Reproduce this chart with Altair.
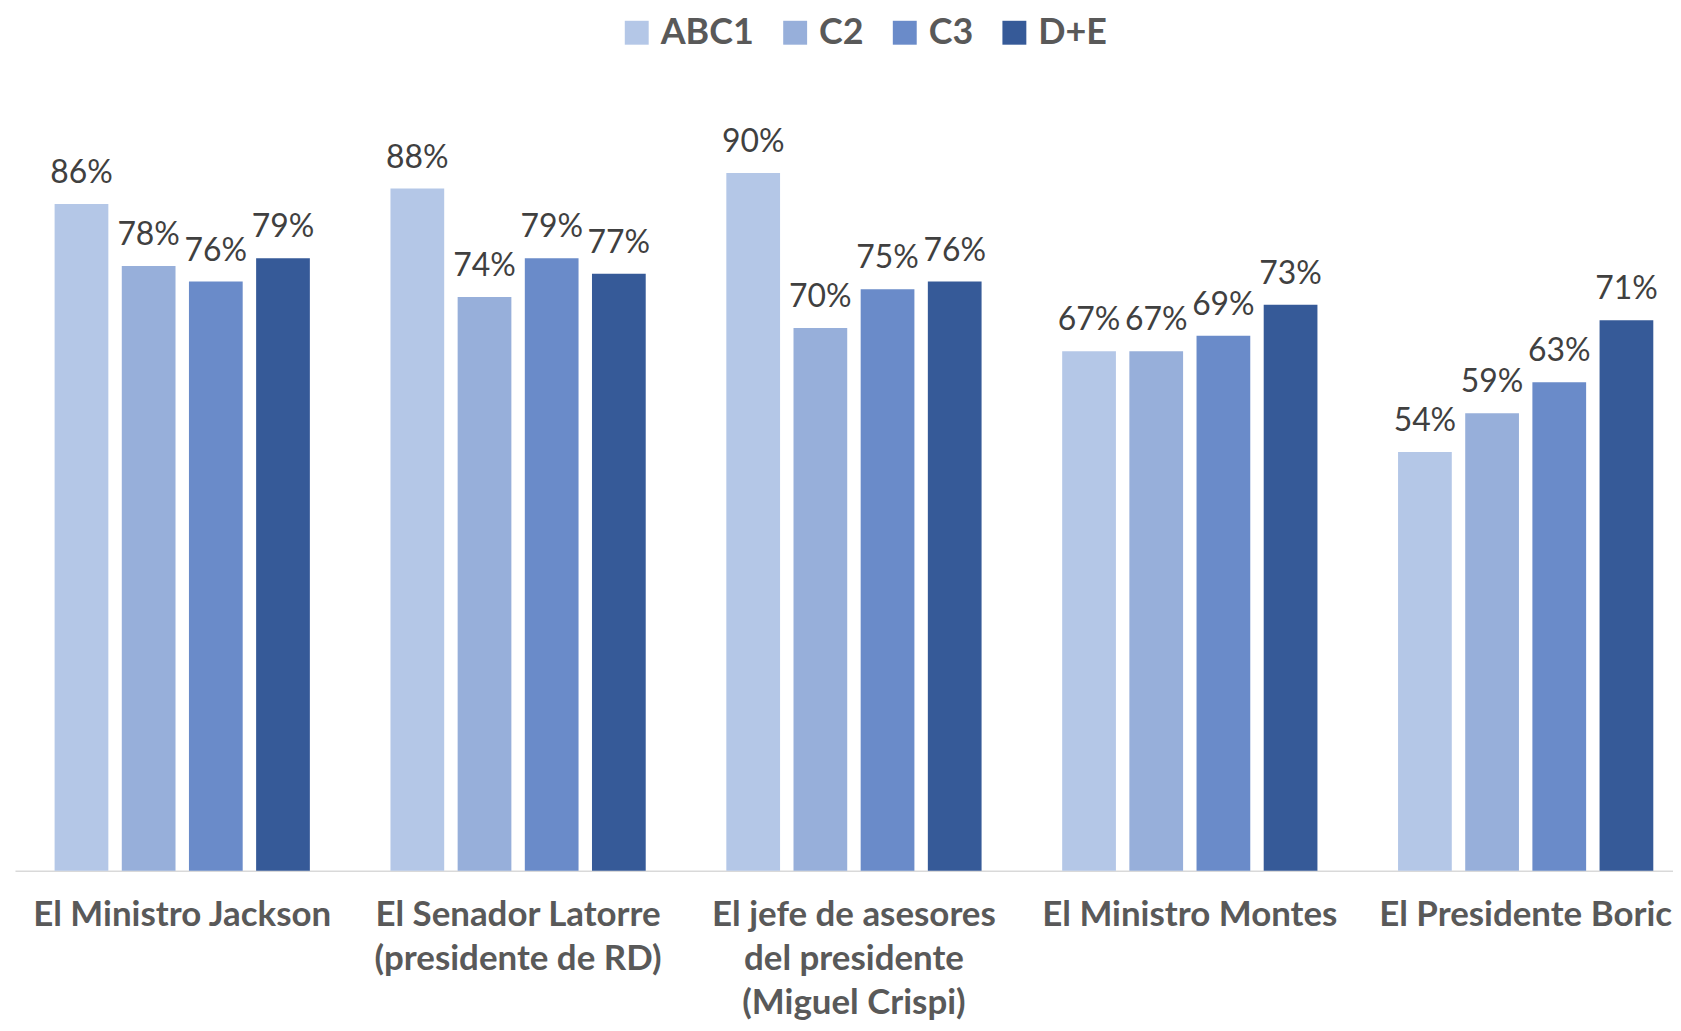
import altair as alt
import pandas as pd

categories = [
    "El Ministro Jackson",
    "El Senador Latorre\n(presidente de RD)",
    "El jefe de asesores\ndel presidente\n(Miguel Crispi)",
    "El Ministro Montes",
    "El Presidente Boric",
]
segments = ["ABC1", "C2", "C3", "D+E"]
colors = ["#B4C7E7", "#97AFDA", "#6A8BC9", "#365A98"]

abc1 = [86, 88, 90, 67, 54]
c2 = [78, 74, 70, 67, 59]
c3 = [76, 79, 75, 69, 63]
de = [79, 77, 76, 73, 71]

series = {"ABC1": abc1, "C2": c2, "C3": c3, "D+E": de}
rows = []
for seg in segments:
    for cat, v in zip(categories, series[seg]):
        rows.append({"cat": cat, "seg": seg, "val": v, "lbl": f"{v}%"})
df = pd.DataFrame(rows)

x = alt.X(
    "cat:N",
    sort=categories,
    title=None,
    scale=alt.Scale(paddingInner=0.2, paddingOuter=0.098, range=[0, 1684]),
    axis=alt.Axis(
        labelExpr="split(datum.label, '\\n')",
        labelAngle=0,
        labelFont="Lato",
        labelFontWeight="bold",
        labelFontSize=35,
        labelColor="#595959",
        labelLineHeight=44,
        labelPadding=27,
        labelLimit=600,
        ticks=False,
        domainColor="#D9D9D9",
        domainWidth=1.5,
        grid=False,
    ),
)
xo = alt.XOffset(
    "seg:N", sort=segments, scale=alt.Scale(paddingInner=0.2, paddingOuter=0.1)
)
y = alt.Y("val:Q", scale=alt.Scale(domain=[0, 100]), axis=None)

bars = alt.Chart(df).mark_bar().encode(
    x=x,
    xOffset=xo,
    y=y,
    color=alt.Color(
        "seg:N",
        sort=segments,
        scale=alt.Scale(domain=segments, range=colors),
        legend=alt.Legend(
            title=None,
            orient="none",
            direction="horizontal",
            legendX=606,
            legendY=-81,
            symbolType="square",
            symbolSize=576,
            symbolStrokeWidth=0,
            symbolOpacity=1,
            labelFont="Lato",
            labelFontWeight="bold",
            labelFontSize=36,
            labelColor="#595959",
            labelOffset=6,
            columnPadding=23,
        ),
    ),
)

text = alt.Chart(df).mark_text(
    baseline="alphabetic",
    dy=-21,
    font="Lato",
    fontSize=32,
    color="#404040",
).encode(x=x, xOffset=xo, y=y, text="lbl:N")

chart = (
    alt.layer(bars, text)
    .properties(
        width=1664,
        height=778,
        padding={"left": 7, "right": 0, "top": 86, "bottom": 151},
        autosize=alt.AutoSizeParams(type="none"),
        background="white",
    )
    .configure_view(strokeWidth=0, stroke="transparent")
)

chart.save("out.html", embed_options={"renderer": "svg", "actions": False})
